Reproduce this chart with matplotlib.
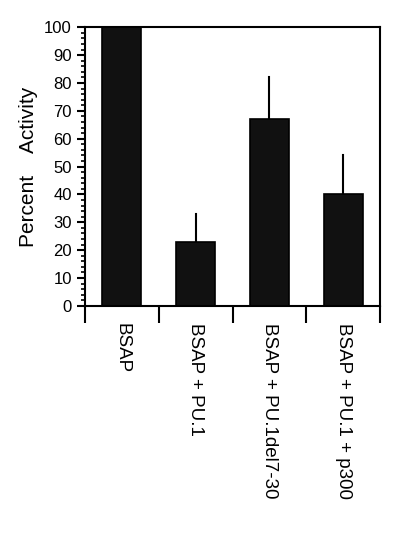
import matplotlib
matplotlib.use("Agg")
import matplotlib.pyplot as plt
import numpy as np
from matplotlib.ticker import MultipleLocator

categories = ["BSAP", "BSAP + PU.1", "BSAP + PU.1del7-30", "BSAP + PU.1 + p300"]
values = [100, 23, 67, 40]
err_up = [0, 10, 15, 14]

plt.rcParams['font.family'] = ['Liberation Sans', 'DejaVu Sans']
fig = plt.figure(figsize=(4, 5.56), dpi=100)
ax = fig.add_axes([0.2125, 0.45, 0.7375, 0.501])
x = np.arange(len(categories))
ax.bar(x, values, width=0.53, color='#111111', edgecolor='black', linewidth=1.2, zorder=2)
for xi, v, e in zip(x, values, err_up):
    if e > 0:
        ax.plot([xi, xi], [v, v + e], color='black', lw=1.5, zorder=1)
ax.set_xlim(-0.5, 3.5)
ax.set_ylim(0, 100)
ax.yaxis.set_major_locator(MultipleLocator(10))
ax.yaxis.set_minor_locator(MultipleLocator(2))
ax.tick_params(axis='y', which='major', length=6, width=1.5, labelsize=12, direction='out')
ax.tick_params(axis='y', which='minor', length=3, width=1.2, direction='out')
ax.set_xticks([-0.5, 0.5, 1.5, 2.5, 3.5])
ax.set_xticklabels([])
ax.tick_params(axis='x', length=12, width=1.5, direction='out')
for s in ax.spines.values():
    s.set_linewidth(1.5)
for xi, c in zip(x, categories):
    ax.text(xi, -6, c, rotation=270, ha='center', va='top', fontsize=13.5, transform=ax.transData, clip_on=False)
ax.set_ylabel("Percent    Activity", fontsize=15, labelpad=4)
fig.savefig("out.png", dpi=100)
